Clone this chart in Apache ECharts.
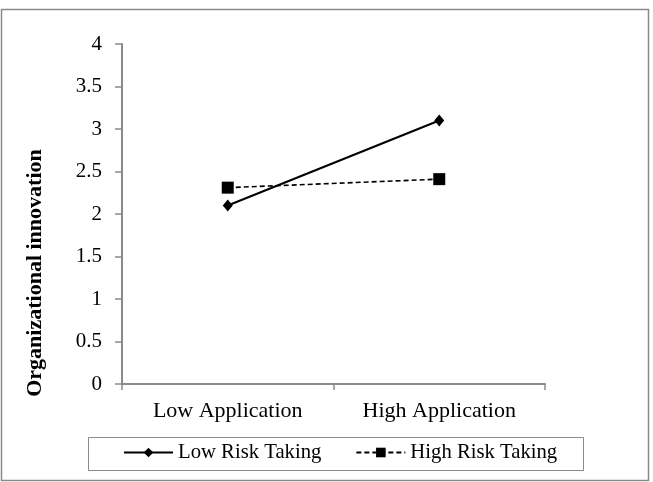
<!DOCTYPE html>
<html>
<head>
<meta charset="utf-8">
<script src="https://cdn.jsdelivr.net/npm/echarts@6/dist/echarts.min.js"></script>
<style>
  html, body { margin: 0; padding: 0; background: #fff; }
  #chart { width: 653px; height: 482px; }
</style>
</head>
<body>
<div id="chart"></div>
<script>
const categories = ['Low Application', 'High Application'];
const lowRiskTaking = [2.1, 3.1];
const highRiskTaking = [2.31, 2.41];
const yTicks = [0, 0.5, 1, 1.5, 2, 2.5, 3, 3.5, 4];
const yTitle = 'Organizational innovation';

const chart = echarts.init(document.getElementById('chart'));
const font = '"Liberation Serif", "Times New Roman", serif';
const axisGray = '#8a8a8a';

chart.setOption({
  animation: false,
  backgroundColor: '#fff',
  textStyle: { fontFamily: font },
  grid: { left: 122, right: 108, top: 44, bottom: 98 },
  xAxis: {
    type: 'category',
    data: categories,
    boundaryGap: true,
    axisLine: { lineStyle: { color: axisGray, width: 2 } },
    axisTick: { show: true, interval: 0, length: 6, lineStyle: { color: axisGray, width: 1.5 } },
    axisLabel: { color: '#000', fontSize: 22, fontFamily: font, margin: 16 }
  },
  yAxis: {
    type: 'value',
    min: 0,
    max: 4,
    interval: 0.5,
    axisLine: { show: true, lineStyle: { color: axisGray, width: 2 } },
    axisTick: { show: true, length: 7, lineStyle: { color: axisGray, width: 1.5 } },
    splitLine: { show: false },
    axisLabel: {
      color: '#000', fontSize: 21, fontFamily: font, margin: 20,
      formatter: v => (yTicks.includes(v) ? String(v) : '')
    }
  },
  legend: {
    top: 442,
    left: 123,
    padding: 0,
    itemWidth: 49,
    itemHeight: 12,
    itemGap: 34,
    textStyle: { color: '#000', fontSize: 20.7, fontFamily: font },
    data: ['Low Risk Taking', 'High Risk Taking']
  },
  graphic: [
    {
      type: 'rect',
      shape: { x: 1.5, y: 9.5, width: 647, height: 471 },
      style: { fill: 'none', stroke: '#8a8a8a', lineWidth: 1.5 },
      silent: true,
      z: -1
    },
    {
      type: 'rect',
      shape: { x: 88.5, y: 437.5, width: 495, height: 33 },
      style: { fill: 'none', stroke: '#8a8a8a', lineWidth: 1 },
      silent: true,
      z: -1
    },
    {
      type: 'text',
      x: 35,
      y: 273,
      rotation: Math.PI / 2,
      style: {
        text: yTitle,
        fill: '#000',
        font: 'bold 22px ' + font,
        textAlign: 'center',
        textVerticalAlign: 'middle'
      },
      silent: true
    }
  ],
  series: [
    {
      name: 'Low Risk Taking',
      type: 'line',
      data: lowRiskTaking,
      symbol: 'diamond',
      symbolSize: [10, 12],
      itemStyle: { color: '#000' },
      lineStyle: { color: '#000', width: 2 }
    },
    {
      name: 'High Risk Taking',
      type: 'line',
      data: highRiskTaking,
      symbol: 'rect',
      symbolSize: 12,
      itemStyle: { color: '#000' },
      lineStyle: { color: '#000', width: 1.6, type: [5, 3] }
    }
  ]
});
</script>
</body>
</html>
